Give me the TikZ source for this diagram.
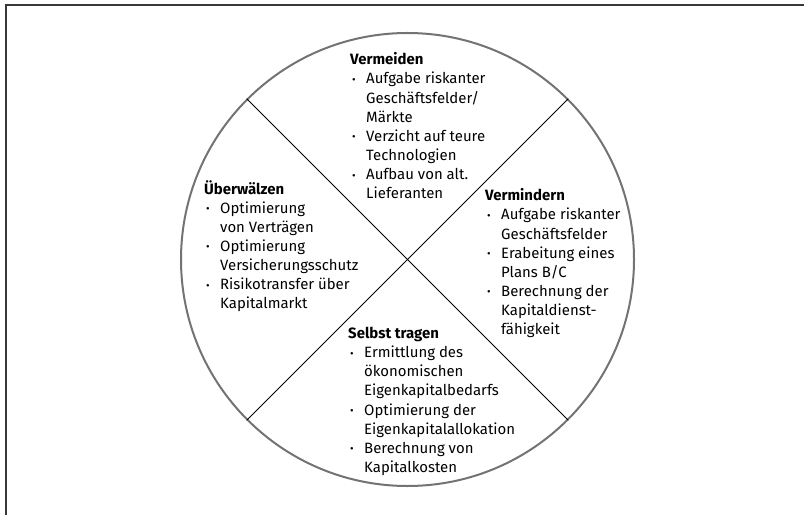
\documentclass[tikz,border=0pt]{standalone}
\usepackage{fontspec}
\setmainfont{Fira Sans}
\begin{document}
\begin{tikzpicture}[x=1bp,y=-1bp,
  frameline/.style={draw=black!78,line width=1.4bp},
  ring/.style={circle,draw=black!55,line width=2bp,minimum size=453bp,inner sep=0pt},
  divider/.style={draw=black,line width=0.8bp},
  block/.style={anchor=north west,inner sep=0pt,align=left,
    font=\fontsize{15}{19.2}\selectfont}]
\newcommand{\bul}{\makebox[16bp][l]{\hspace{2bp}\raisebox{0.5bp}{\fontsize{11}{11}\selectfont\textbullet}}}
\newcommand{\ind}{\hspace*{16bp}}
\useasboundingbox (0,0) rectangle (804,515);
% frame: top and left edges
\coordinate (ftr) at (804,5);
\coordinate (ftl) at (6,5);
\coordinate (fbl) at (6,515);
\draw[frameline] (ftr) -- (ftl) -- (fbl);
% circle and the two dividing diagonals
\node[ring] (c) at (407.5,259.5) {};
\draw[divider] (c.135) -- (c.-45);
\draw[divider] (c.45) -- (c.-135);
% quadrant texts
\node[block] (vermeiden) at (350,52.5) {\textbf{Vermeiden}\\
\bul Aufgabe riskanter\\
\ind Geschäftsfelder/\\
\ind Märkte\\
\bul Verzicht auf teure\\
\ind Technologien\\
\bul Aufbau von alt.\\
\ind Lieferanten};
\node[block] (ueberwaelzen) at (204,180) {\textbf{Überwälzen}\\
\bul Optimierung\\
\ind von Verträgen\\
\bul Optimierung\\
\ind Versicherungsschutz\\
\bul Risikotransfer über\\
\ind Kapitalmarkt};
\node[block] (vermindern) at (485,188.5) {\textbf{Vermindern}\\
\bul Aufgabe riskanter\\
\ind Geschäftsfelder\\
\bul Erabeitung eines\\
\ind Plans B/C\\
\bul Berechnung der\\
\ind Kapitaldienst-\\
\ind fähigkeit};
\node[block] (selbst) at (348,327) {\textbf{Selbst tragen}\\
\bul Ermittlung des\\
\ind ökonomischen\\
\ind Eigenkapitalbedarfs\\
\bul Optimierung der\\
\ind Eigenkapitalallokation\\
\bul Berechnung von\\
\ind Kapitalkosten};
\end{tikzpicture}
\end{document}
